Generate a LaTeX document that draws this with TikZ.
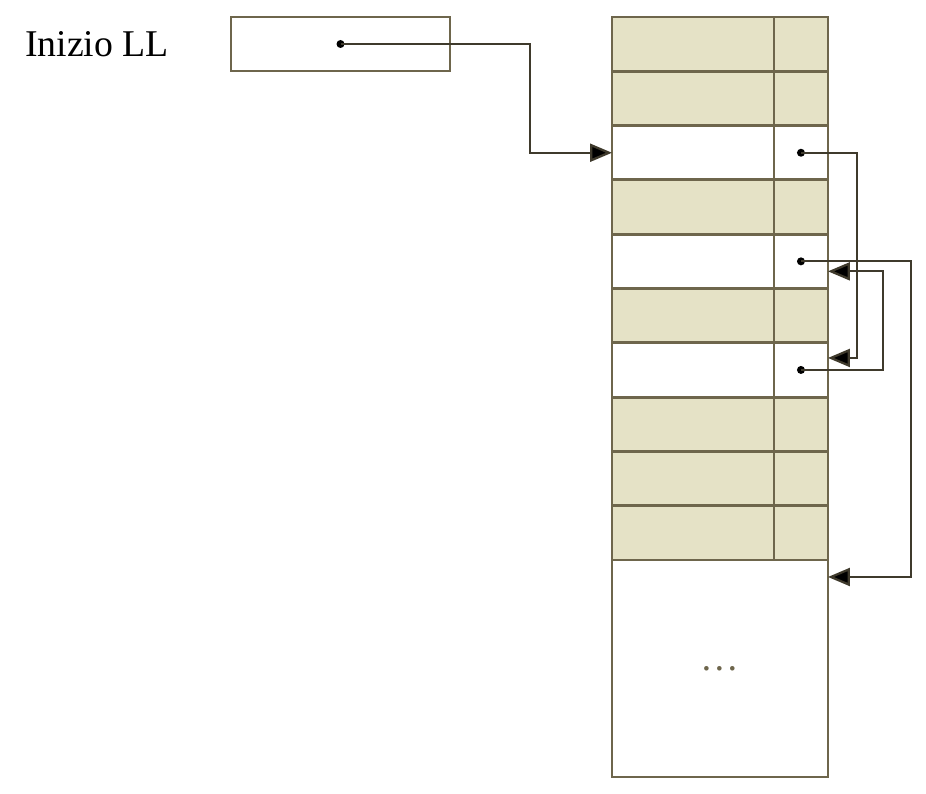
\documentclass[tikz,border=0pt]{standalone}
\usepackage{fontspec}
\setmainfont{Liberation Serif}
\usetikzlibrary{arrows.meta,positioning}
\definecolor{cella}{HTML}{E5E2C6}
\definecolor{bordo}{HTML}{6E664C}
\definecolor{filo}{HTML}{3F3A2C}

\begin{document}
\begin{tikzpicture}[x=0.02cm, y=-0.02cm,
    dato/.style={draw=bordo, line width=1.6pt, inner sep=0pt, outer sep=0pt, anchor=north west,
        minimum width=3.24cm, minimum height=1.086cm},
    puntatore/.style={dato, minimum width=1.08cm},
    freccia/.style={draw=filo, line width=1.3pt, -{Triangle[length=0.44cm, width=0.36cm, fill=black]}},
    punto/.style={fill=black}]
    \useasboundingbox (0,0) rectangle (926,794);
    % testa della lista
    \node[font=\fontsize{21.5}{25}\selectfont] (etichetta) at (97,44) {Inizio LL};
    \node[dato, anchor=center, minimum width=4.38cm, minimum height=1.08cm] (inizio) at (340.5,44) {};
    % tabella
    \foreach \i/\colore in {1/cella,2/cella,3/white,4/cella,5/white,6/cella,7/white,8/cella,9/cella,10/cella} {
        \node[dato, fill=\colore] (d\i) at (612, {17+(\i-1)*54.3}) {};
        \node[puntatore, fill=\colore, right=0pt of d\i] (p\i) {};
    }
    \node[dato, minimum width=4.32cm, minimum height=4.34cm, text=bordo,
        font=\fontsize{22}{25}\selectfont] (resto) at (d10.south west) {\dots};
    % gomiti dei collegamenti
    \coordinate (gA) at (530,0);
    \coordinate (gB) at (857,0);
    \coordinate (gC) at (883,0);
    \coordinate (gD) at (911,0);
    \fill[punto] (inizio.center) circle[radius=0.08cm];
    \foreach \i in {3,5,7} \fill[punto] (p\i.center) circle[radius=0.08cm];
    \draw[freccia] (inizio.center) -- (inizio.center -| gA) |- (d3.west);
    \draw[freccia] (p3.center) -- (p3.center -| gB) |- ([yshift=0.24cm]p7.east);
    \draw[freccia] (p7.center) -- (p7.center -| gC) |- ([yshift=-0.2cm]p5.east);
    \draw[freccia] (p5.center) -- (p5.center -| gD) |- ([yshift=-0.34cm]resto.north east);
\end{tikzpicture}
\end{document}
